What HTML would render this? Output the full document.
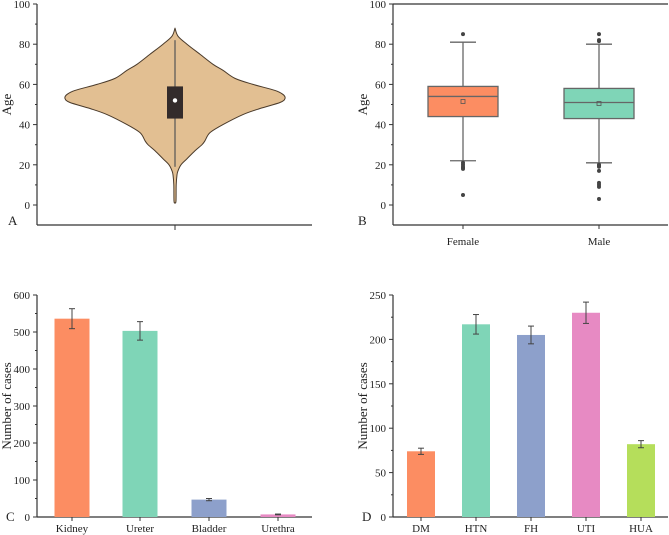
<!DOCTYPE html>
<html><head><meta charset="utf-8"><style>
body{margin:0;background:#fff}
svg{display:block;font-family:"Liberation Serif",serif;font-size:11px;fill:#222}
</style></head><body>
<svg id="c" width="669" height="535" xmlns="http://www.w3.org/2000/svg"></svg>
<script>
// Panel A violin (age, half-width-density)
const violinAges=[88,84,80,75,70,67,63,60,57,55,53,51,48,45,40,36,32,30,27,23,20,17,15,10,2,1];
const violinDens=[0,3,12,25,38,48,60,78,100,108,110,105,85,68,48,35,30,27,20,12,6,3,2,1.2,1,0];
const violinBox=[19,43,52,59,82];
// Panel B
const sexCats=["Female","Male"];
const sexBoxes=[[22,44,54,59,81],[21,43,51,58,80]];
const sexMeans=[51.5,50.5];
const sexOutliers=[[85,21,20,19,18.5,18,5],[85,82,81.5,20,19.5,19,17,11,10,9,3]];
// Panel C
const siteCats=["Kidney","Ureter","Bladder","Urethra"];
const siteVals=[536,503,47,7];
const siteErr=[27,25,3,1];
// Panel D
const riskCats=["DM","HTN","FH","UTI","HUA"];
const riskVals=[74,217,205,230,82];
const riskErr=[3.5,11,10,12,4];

const svg=document.getElementById('c');const NS="http://www.w3.org/2000/svg";
function el(t,a,txt){const e=document.createElementNS(NS,t);for(const k in a)e.setAttribute(k,a[k]);if(txt!==undefined)e.textContent=txt;svg.appendChild(e);return e;}
function yScale(max,top,bot){return v=>bot-(v/max)*(bot-top);}
function smooth(pts){let d="M"+pts[0][0]+","+pts[0][1];
  for(let i=0;i<pts.length-1;i++){const p0=pts[Math.max(0,i-1)],p1=pts[i],p2=pts[i+1],p3=pts[Math.min(pts.length-1,i+2)];
    const c1=[p1[0]+(p2[0]-p0[0])/6,p1[1]+(p2[1]-p0[1])/6],c2=[p2[0]-(p3[0]-p1[0])/6,p2[1]-(p3[1]-p1[1])/6];
    d+=`C${c1[0]},${c1[1]} ${c2[0]},${c2[1]} ${p2[0]},${p2[1]}`;}return d;}
function axes(x0,x1,ybot,top,zero,max,step,minor,label,letter,name){
  const y=yScale(max,top,zero);
  let a=el('line',{x1:x0,y1:ybot,x2:x0,y2:top,stroke:'#333','stroke-width':1.2});
  
  a=el('line',{x1:x0,y1:ybot,x2:x1,y2:ybot,stroke:'#333','stroke-width':1.2});
  
  for(let v=0;v<=max;v+=step/2){const major=Math.abs(v/step-Math.round(v/step))<1e-6;
    el('line',{x1:x0-(major?4:2),y1:y(v),x2:x0,y2:y(v),stroke:'#333','stroke-width':1});
    if(major){const t=el('text',{x:x0-7,y:y(v)+4,'text-anchor':'end'},String(v));
      }}
  const t=el('text',{x:0,y:0,transform:`translate(${x0-26},${(top+zero)/2}) rotate(-90)`,'text-anchor':'middle','font-size':13},label);
  
  const l=el('text',{x:letter[0],y:letter[1],'font-size':13},name.slice(-1).toUpperCase());
  
  return y;
}
// Panel A
{const y=axes(37,312,225,4,205,100,20,true,"Age",[8,225],"panel-a");
 const cx=175;const pts=[];
 violinAges.forEach((a,i)=>pts.push([cx+violinDens[i],y(a)]));
 for(let i=violinAges.length-1;i>=0;i--)pts.push([cx-violinDens[i],y(violinAges[i])]);
 let v=el('path',{d:smooth(pts)+"Z",fill:'#e2bf92',stroke:'#4a3a2a','stroke-width':1,'stroke-linejoin':'round'});
 
 el('line',{x1:cx,y1:y(violinBox[0]),x2:cx,y2:y(violinBox[4]),stroke:'#555','stroke-width':1.2});
 v=el('rect',{x:cx-8,y:y(violinBox[3]),width:16,height:y(violinBox[1])-y(violinBox[3]),fill:'#332b2b'});
 
 el('circle',{cx:cx,cy:y(violinBox[2]),r:2.2,fill:'#fff'});
 el('line',{x1:cx,y1:225,x2:cx,y2:230,stroke:'#333'});}
// Panel B
{const y=axes(393,668,225,4,205,100,20,true,"Age",[358,225],"panel-b");
 el('line',{x1:393,y1:4,x2:668,y2:4,stroke:'#333','stroke-width':1.2});
 const cols=["#fc8d62","#7fd5b7"];const xs=[463,599];
 sexCats.forEach((c,i)=>{const b=sexBoxes[i],x=xs[i];
  el('line',{x1:x,y1:y(b[0]),x2:x,y2:y(b[4]),stroke:'#666','stroke-width':1.3});
  el('line',{x1:x-13,y1:y(b[0]),x2:x+13,y2:y(b[0]),stroke:'#666','stroke-width':1.3});
  el('line',{x1:x-13,y1:y(b[4]),x2:x+13,y2:y(b[4]),stroke:'#666','stroke-width':1.3});
  let r=el('rect',{x:x-35,y:y(b[3]),width:70,height:y(b[1])-y(b[3]),fill:cols[i],stroke:'#666','stroke-width':1.3});
  
  el('line',{x1:x-35,y1:y(b[2]),x2:x+35,y2:y(b[2]),stroke:'#666','stroke-width':1.3});
  el('rect',{x:x-2,y:y(sexMeans[i])-2,width:4,height:4,fill:'none',stroke:'#555','stroke-width':0.8});
  sexOutliers[i].forEach(o=>el('circle',{cx:x,cy:y(o),r:2,fill:'#444'}));
  el('line',{x1:x,y1:225,x2:x,y2:229,stroke:'#333'});
  const t=el('text',{x:x,y:245,'text-anchor':'middle'},c);
  });}
function bars(x0,x1,max,step,cats,vals,errs,xs,w,cols,name,letter){
  const y=axes(x0,x1,517,295,517,max,step,true,"Number of cases",letter,name);
  cats.forEach((c,i)=>{const x=xs[i];
   const r=el('rect',{x:x-w/2,y:y(vals[i]),width:w,height:517-y(vals[i]),fill:cols[i]});
   
   const e1=y(vals[i]+errs[i]),e2=y(vals[i]-errs[i]);
   el('line',{x1:x,y1:e1,x2:x,y2:e2,stroke:'#444','stroke-width':1});
   el('line',{x1:x-3,y1:e1,x2:x+3,y2:e1,stroke:'#444','stroke-width':1});
   el('line',{x1:x-3,y1:e2,x2:x+3,y2:e2,stroke:'#444','stroke-width':1});
   el('line',{x1:x,y1:517,x2:x,y2:521,stroke:'#333'});
   const t=el('text',{x:x,y:532,'text-anchor':'middle'},c);
   });
}
bars(37,312,600,100,siteCats,siteVals,siteErr,[72,140,209,278],35,["#fc8d62","#7fd5b7","#8da0cb","#e78ac3"],"panel-c",[6,521]);
bars(393,668,250,50,riskCats,riskVals,riskErr,[421,476,531,586,641],28,["#fc8d62","#7fd5b7","#8da0cb","#e78ac3","#b5de5b"],"panel-d",[362,521]);
</script>
</body></html>
